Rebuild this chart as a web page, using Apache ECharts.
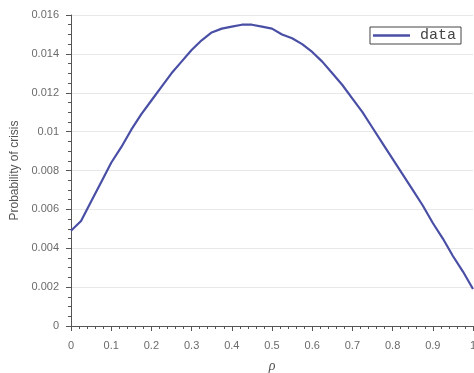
<!DOCTYPE html>
<html><head><meta charset="utf-8">
<script src="https://cdn.jsdelivr.net/npm/echarts@6/dist/echarts.min.js"></script>
<style>html,body{margin:0;padding:0;background:#fff}#c{width:474px;height:373px}</style>
</head><body><div id="c"></div>
<script>
const rho = [0,0.025,0.05,0.075,0.1,0.125,0.15,0.175,0.2,0.225,0.25,0.275,0.3,0.325,0.35,0.375,0.4,0.425,0.45,0.475,0.5,0.525,0.55,0.575,0.6,0.625,0.65,0.675,0.7,0.725,0.75,0.775,0.8,0.825,0.85,0.875,0.9,0.925,0.95,0.975,1];
const prob = [0.0049,0.0054,0.0064,0.0074,0.0084,0.0092,0.0101,0.0109,0.0116,0.0123,0.0130,0.0136,0.0142,0.0147,0.0151,0.0153,0.0154,0.0155,0.0155,0.0154,0.0153,0.0150,0.0148,0.0145,0.0141,0.0136,0.0130,0.0124,0.0117,0.0110,0.0102,0.0094,0.0086,0.0078,0.0070,0.0062,0.0053,0.0045,0.0036,0.0028,0.0019];
const seriesName = 'data';
const xLabel = 'ρ';
const yLabel = 'Probability of crisis';

const chart = echarts.init(document.getElementById('c'));
const axisCol = '#555';
const lblCol = '#6b6b6b';
chart.setOption({
  animation: false,
  grid: {left: 71, right: 1, top: 15, bottom: 47, outerBoundsMode: 'none', containLabel: false},
  legend: {
    data: [seriesName], right: 13, top: 27,
    orient: 'vertical',
    borderColor: '#444', borderWidth: 1, padding: [1, 5, 1, 3],
    icon: 'rect', itemWidth: 37, itemHeight: 2.5, itemGap: 0,
    textStyle: {fontFamily: 'Liberation Mono, monospace', fontSize: 15, color: '#444', padding: [0, 0, 0, 5]}
  },
  xAxis: {
    type: 'value', min: 0, max: 1, interval: 0.1,
    name: xLabel, nameLocation: 'middle', nameGap: 33,
    nameTextStyle: {fontFamily: 'Liberation Serif, serif', fontStyle: 'italic', fontSize: 14, color: '#555'},
    axisLine: {show: true, onZero: false, lineStyle: {color: axisCol, width: 1}},
    axisTick: {show: true, inside: false, length: 5, lineStyle: {color: axisCol}},
    minorTick: {show: true, splitNumber: 5, length: 3, lineStyle: {color: axisCol}},
    splitLine: {show: false},
    axisLabel: {color: lblCol, fontFamily: 'Liberation Sans, Arial, sans-serif', fontSize: 11, margin: 14,
      formatter: v => String(+v.toFixed(2))}
  },
  yAxis: {
    type: 'value', min: 0, max: 0.016, interval: 0.002,
    name: yLabel, nameLocation: 'middle', nameGap: 48, nameRotate: 90,
    nameTextStyle: {fontFamily: 'Liberation Sans, Arial, sans-serif', fontSize: 12, color: '#555'},
    axisLine: {show: true, onZero: false, lineStyle: {color: axisCol, width: 1}},
    axisTick: {show: true, inside: false, length: 5, lineStyle: {color: axisCol}},
    minorTick: {show: true, splitNumber: 4, length: 3, lineStyle: {color: axisCol}},
    splitLine: {show: true, lineStyle: {color: '#e8e8e8', width: 1}},
    axisLabel: {color: lblCol, fontFamily: 'Liberation Sans, Arial, sans-serif', fontSize: 11, margin: 12,
      formatter: v => String(+v.toFixed(3))}
  },
  series: [{
    name: seriesName, type: 'line', showSymbol: false, symbol: 'none',
    data: rho.map((r, i) => [r, prob[i]]),
    lineStyle: {color: '#4a4fa6', width: 2.2},
    itemStyle: {color: '#4a4fa6'}
  }]
});
</script></body></html>
